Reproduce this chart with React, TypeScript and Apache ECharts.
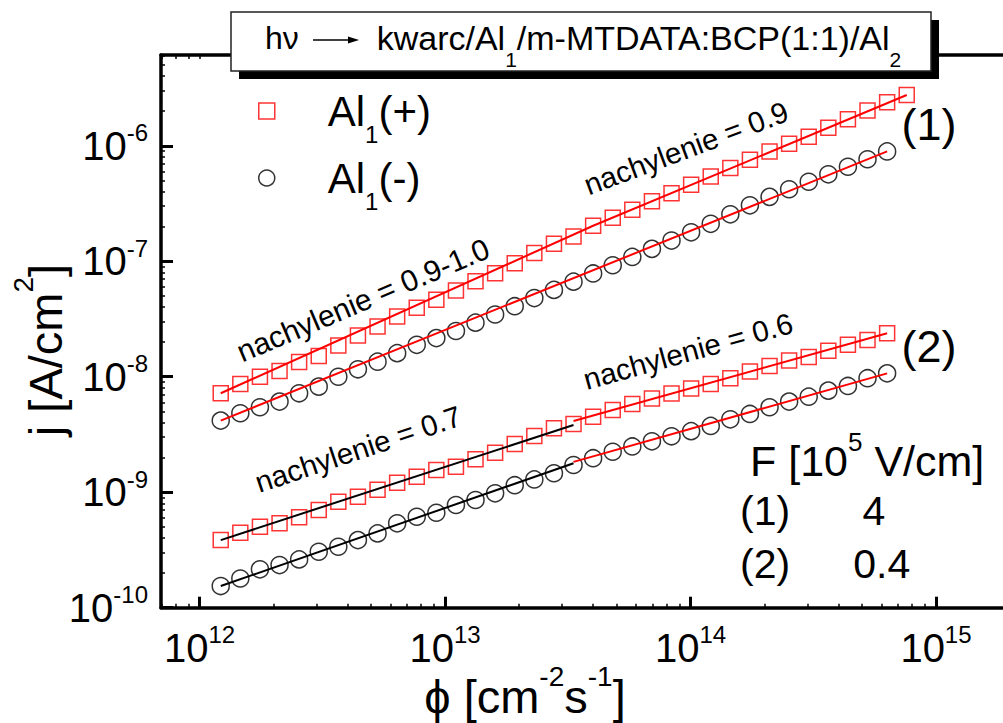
import React, { useEffect, useRef } from 'react';
import * as echarts from 'echarts';

const FF = '"Liberation Sans", Arial, Helvetica, sans-serif';

// photon flux [cm^-2 s^-1]
const phi = [
  1.22e12, 1.466e12, 1.762e12, 2.118e12, 2.545e12, 3.059e12, 3.676e12, 4.418e12, 5.311e12, 6.383e12,
  7.671e12, 9.218e12, 1.108e13, 1.331e13, 1.6e13, 1.923e13, 2.311e13, 2.778e13, 3.338e13, 4.012e13,
  4.822e13, 5.794e13, 6.965e13, 8.37e13, 1.006e14, 1.209e14, 1.453e14, 1.746e14, 2.099e14, 2.522e14,
  3.031e14, 3.643e14, 4.378e14, 5.261e14, 6.324e14, 7.6e14,
];
// (1) F = 4e5 V/cm
const jPlus1 = [
  7.19e-9, 8.66e-9, 1.0e-8, 1.12e-8, 1.34e-8, 1.51e-8, 1.86e-8, 2.27e-8, 2.72e-8, 3.32e-8,
  3.95e-8, 4.63e-8, 5.57e-8, 6.72e-8, 7.89e-8, 9.63e-8, 1.18e-7, 1.42e-7, 1.64e-7, 2.03e-7,
  2.38e-7, 2.79e-7, 3.3e-7, 3.88e-7, 4.59e-7, 5.42e-7, 6.41e-7, 7.56e-7, 8.93e-7, 1.04e-6,
  1.2e-6, 1.43e-6, 1.7e-6, 2.02e-6, 2.38e-6, 2.75e-6,
];
const jMinus1 = [
  4.17e-9, 4.83e-9, 5.44e-9, 6.09e-9, 7.19e-9, 8.21e-9, 1.0e-8, 1.16e-8, 1.35e-8, 1.6e-8,
  1.89e-8, 2.16e-8, 2.49e-8, 2.94e-8, 3.46e-8, 4.08e-8, 4.8e-8, 5.65e-8, 6.66e-8, 7.84e-8,
  9.23e-8, 1.09e-7, 1.28e-7, 1.51e-7, 1.78e-7, 2.11e-7, 2.55e-7, 3.05e-7, 3.61e-7, 4.2e-7,
  4.88e-7, 5.66e-7, 6.58e-7, 7.64e-7, 8.93e-7,
];
// (2) F = 0.4e5 V/cm
const jPlus2 = [
  3.85e-10, 4.46e-10, 5.02e-10, 5.38e-10, 6.06e-10, 7.01e-10, 8.27e-10, 9.14e-10, 1.05e-9, 1.21e-9,
  1.36e-9, 1.56e-9, 1.66e-9, 1.93e-9, 2.2e-9, 2.62e-9, 3.07e-9, 3.58e-9, 3.9e-9, 4.51e-9,
  5.16e-9, 5.81e-9, 6.49e-9, 7.17e-9, 7.92e-9, 8.66e-9, 9.71e-9, 1.11e-8, 1.24e-8, 1.38e-8,
  1.48e-8, 1.68e-8, 1.89e-8, 2.08e-8, 2.38e-8,
];
const jMinus2 = [
  1.54e-10, 1.79e-10, 2.15e-10, 2.34e-10, 2.62e-10, 3.05e-10, 3.37e-10, 3.85e-10, 4.4e-10, 5.38e-10,
  6.13e-10, 6.64e-10, 7.75e-10, 8.56e-10, 9.78e-10, 1.15e-9, 1.29e-9, 1.46e-9, 1.72e-9, 1.97e-9,
  2.24e-9, 2.49e-9, 2.76e-9, 3.05e-9, 3.38e-9, 3.75e-9, 4.28e-9, 4.76e-9, 5.44e-9, 6.09e-9,
  6.72e-9, 7.58e-9, 8.32e-9, 9.71e-9, 1.07e-8,
];
// fitted lines [phi, j]
const fitPlus1: number[][] = [[1.22e12, 7.19e-9], [4.012e13, 2.03e-7], [7.6e14, 2.75e-6]];
const fitMinus1: number[][] = [[1.22e12, 4.17e-9], [6.324e14, 8.93e-7]];
const fitPlus2Low: number[][] = [[1.22e12, 3.85e-10], [3.338e13, 3.82e-9]];
const fitPlus2High: number[][] = [[3.338e13, 4.14e-9], [6.324e14, 2.38e-8]];
const fitMinus2Low: number[][] = [[1.22e12, 1.54e-10], [3.338e13, 1.78e-9]];
const fitMinus2High: number[][] = [[3.338e13, 1.83e-9], [6.324e14, 1.07e-8]];

// tick exponents
const xTickExps = [12, 13, 14, 15];
const yTickExps = [-10, -9, -8, -7, -6];

const X_MIN = 11.843;
const X_MAX = 15.273;
const Y_MIN = -10;
const Y_MAX = -5.214;

const lg = Math.log10;
const pts = (xs: number[], ys: number[]) => ys.map((y, i) => [lg(xs[i]), lg(y)]);
const fit = (arr: number[][]) => arr.map(([x, y]) => [lg(x), lg(y)]);

const minorTicks = (from: number, to: number, lo: number, hi: number) => {
  const out: number[] = [];
  for (let n = from; n <= to; n++) {
    for (let k = 2; k <= 9; k++) {
      const v = n + Math.log10(k);
      if (v > lo && v < hi) out.push(v);
    }
  }
  return out;
};
const xMinor = minorTicks(11, 15, X_MIN, X_MAX);
const yMinor = minorTicks(-10, -6, Y_MIN, Y_MAX);

// rich-text helpers: superscript raised by `raise`, subscript dropped by `drop`
const supRich = (main: number, sup: number, raise: number) => ({
  m: { fontSize: main, fontFamily: FF, color: '#000', lineHeight: 2 * (raise + sup / 2) },
  s: { fontSize: sup, fontFamily: FF, color: '#000', lineHeight: sup, verticalAlign: 'top' },
});
const subRich = (main: number, sub: number, drop: number) => ({
  m: { fontSize: main, fontFamily: FF, color: '#000', lineHeight: 2 * drop + sub },
  s: { fontSize: sub, fontFamily: FF, color: '#000', lineHeight: sub, verticalAlign: 'bottom' },
});

const txt = (text: string, x: number, y: number, size: number, align = 'left', rotationDeg = 0, rich?: any) => ({
  type: 'text',
  x,
  y,
  rotation: (rotationDeg * Math.PI) / 180,
  z: 60,
  style: {
    text,
    fontSize: size,
    fontFamily: FF,
    fill: '#000',
    align,
    textAlign: align,
    verticalAlign: 'middle',
    textVerticalAlign: 'middle',
    rich,
  },
});

export default function App() {
  const ref = useRef<HTMLDivElement>(null);
  useEffect(() => {
    const chart = echarts.init(ref.current!, null, { renderer: 'svg' });
    const tickRich = supRich(40, 24, 13);
    const squareStyle = { color: 'rgba(0,0,0,0)', borderColor: '#ff0000', borderWidth: 1.5 };
    const circleStyle = { color: 'rgba(0,0,0,0)', borderColor: '#000000', borderWidth: 1.5 };
    const lineSeries = (data: number[][], color: string) => ({
      type: 'line',
      data: fit(data),
      showSymbol: false,
      symbol: 'none',
      silent: true,
      z: 4,
      lineStyle: { color, width: 2 },
      xAxisIndex: 0,
      yAxisIndex: 0,
    });
    const legendRich = {
      a: { fontSize: 42, fontFamily: FF, color: '#000', lineHeight: 70, padding: [0, 0, 0, 48] },
      c: { fontSize: 42, fontFamily: FF, color: '#000', lineHeight: 70 },
      s: { fontSize: 24, fontFamily: FF, color: '#000', lineHeight: 24, verticalAlign: 'bottom' },
    };

    const option: any = {
      animation: false,
      backgroundColor: '#ffffff',
      grid: { left: 161, top: 55, right: 0, bottom: 115.3, containLabel: false },
      legend: {
        data: ['Al1(+)', 'Al1(-)'],
        orient: 'vertical',
        left: 258,
        top: 90,
        padding: 0,
        itemGap: 11,
        itemWidth: 16,
        itemHeight: 16,
        selectedMode: false,
        itemStyle: { borderWidth: 1.5 },
        formatter: (n: string) => (n === 'Al1(+)' ? '{a|Al}{s|1}{c|(+)}' : '{a|Al}{s|1}{c|(-)}'),
        textStyle: { rich: legendRich },
      },
      xAxis: [
        {
          type: 'value',
          position: 'bottom',
          min: X_MIN,
          max: X_MAX,
          splitLine: { show: false },
          axisLine: { show: true, onZero: false, lineStyle: { color: '#000', width: 3.5 } },
          axisTick: { show: true, inside: true, length: 11, customValues: xTickExps, lineStyle: { color: '#000', width: 3 } },
          axisLabel: {
            show: true,
            customValues: xTickExps,
            margin: 15,
            formatter: (v: number) => `{m|10}{s|${Math.round(v)}}`,
            rich: tickRich,
          },
        },
        {
          type: 'value',
          position: 'bottom',
          min: X_MIN,
          max: X_MAX,
          splitLine: { show: false },
          axisLine: { show: false, onZero: false },
          axisTick: { show: true, inside: true, length: 4, customValues: xMinor, lineStyle: { color: '#000', width: 1.5 } },
          axisLabel: { show: false },
        },
        {
          type: 'value',
          position: 'top',
          min: X_MIN,
          max: X_MAX,
          splitLine: { show: false },
          axisLine: { show: true, onZero: false, lineStyle: { color: '#000', width: 3.5 } },
          axisTick: { show: true, inside: true, length: 4, customValues: [...xMinor, ...xTickExps], lineStyle: { color: '#000', width: 1.5 } },
          axisLabel: { show: false },
        },
      ],
      yAxis: [
        {
          type: 'value',
          position: 'left',
          min: Y_MIN,
          max: Y_MAX,
          splitLine: { show: false },
          axisLine: { show: true, onZero: false, lineStyle: { color: '#000', width: 3.5 } },
          axisTick: { show: true, inside: true, length: 12, customValues: yTickExps, lineStyle: { color: '#000', width: 3 } },
          axisLabel: {
            show: true,
            customValues: yTickExps,
            margin: 13,
            formatter: (v: number) => `{m|10}{s|${Math.round(v)}}`,
            rich: tickRich,
          },
        },
        {
          type: 'value',
          position: 'left',
          min: Y_MIN,
          max: Y_MAX,
          splitLine: { show: false },
          axisLine: { show: false, onZero: false },
          axisTick: { show: true, inside: true, length: 4, customValues: yMinor, lineStyle: { color: '#000', width: 1.5 } },
          axisLabel: { show: false },
        },
      ],
      series: [
        { type: 'scatter', name: 'Al1(+)', data: pts(phi, jPlus1), symbol: 'rect', symbolSize: 15, itemStyle: squareStyle, z: 3 },
        { type: 'scatter', name: 'Al1(+)', data: pts(phi, jPlus2), symbol: 'rect', symbolSize: 15, itemStyle: squareStyle, z: 3 },
        { type: 'scatter', name: 'Al1(-)', data: pts(phi, jMinus1), symbol: 'circle', symbolSize: 17, itemStyle: circleStyle, z: 3 },
        { type: 'scatter', name: 'Al1(-)', data: pts(phi, jMinus2), symbol: 'circle', symbolSize: 17, itemStyle: circleStyle, z: 3 },
        lineSeries(fitPlus1, '#ff0000'),
        lineSeries(fitMinus1, '#ff0000'),
        lineSeries(fitPlus2Low, '#000000'),
        lineSeries(fitPlus2High, '#ff0000'),
        lineSeries(fitMinus2Low, '#000000'),
        lineSeries(fitMinus2High, '#ff0000'),
      ],
      graphic: [
        // title box with shadow
        { type: 'rect', z: 50, shape: { x: 239, y: 20, width: 700, height: 59 }, style: { fill: '#000' } },
        { type: 'rect', z: 51, shape: { x: 231, y: 12, width: 700, height: 59 }, style: { fill: '#fff', stroke: '#222', lineWidth: 1.5 } },
        txt('hν', 265, 37.5, 32),
        { type: 'line', z: 52, shape: { x1: 313, y1: 40, x2: 351, y2: 40 }, style: { stroke: '#000', lineWidth: 1.5 } },
        { type: 'polygon', z: 52, shape: { points: [[348, 36.5], [359, 40], [348, 43.5]] }, style: { fill: '#000' } },
        txt('{m|kwarc/Al}{s|1}{m|/m-MTDATA:BCP(1:1)/Al}{s|2}', 376.7, 37.5, 34, 'left', 0, subRich(34, 21, 22)),
        // axis titles
        txt('{m|j [A/cm}{s|2}{m|]}', 45, 350, 47, 'center', 90, supRich(47, 28, 22)),
        txt('{m|ϕ [cm}{s|-2}{m|s}{s|-1}{m|]}', 525, 696, 47, 'center', 0, supRich(47, 28, 20)),
        // curve labels
        txt('(1)', 929, 124, 45, 'center'),
        txt('(2)', 929, 346, 45, 'center'),
        // slope labels
        txt('nachylenie = 0.9-1.0', 363, 300, 30, 'center', 23),
        txt('nachylenie = 0.9', 686, 148, 29.5, 'center', 20.5),
        txt('nachylenie = 0.7', 358, 449, 29.5, 'center', 18.5),
        txt('nachylenie = 0.6', 688, 351, 29.5, 'center', 15.5),
        // field table
        txt('{m|F [10}{s|5}{m| V/cm]}', 750, 461, 43, 'left', 0, supRich(43, 26, 19)),
        txt('(1)', 740, 511, 41),
        txt('4', 874, 511, 41, 'center'),
        txt('(2)', 740, 564, 41),
        txt('0.4', 881.7, 564, 41, 'center'),
      ],
    };
    chart.setOption(option);
    return () => chart.dispose();
  }, []);
  return (
    <div
      ref={ref}
      style={{ position: 'fixed', left: 0, top: 0, width: 1003, height: 723, background: '#fff' }}
    />
  );
}
